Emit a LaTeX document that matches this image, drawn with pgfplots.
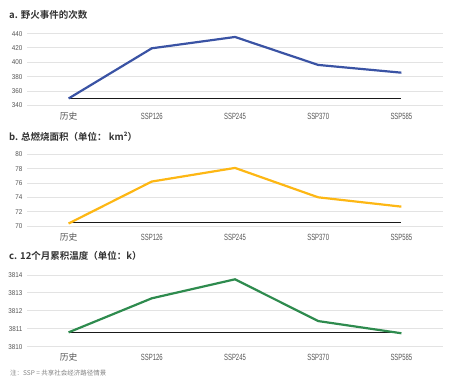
\documentclass[border=0pt]{standalone}
\usepackage{fontspec}
\usepackage{pgfplots}
\pgfplotsset{compat=1.18}
\setmainfont{Liberation Sans}
\newfontfamily\cjk[BoldFont={Noto Sans CJK SC Bold}]{Noto Sans CJK SC}
\newfontfamily\condfont[FakeStretch=0.66]{Liberation Sans}
\newfontfamily\ytfont[FakeStretch=0.9]{Liberation Sans}
\definecolor{cblue}{HTML}{3A53A4}
\definecolor{cyellow}{HTML}{FDB714}
\definecolor{cgreen}{HTML}{2E8B4E}
\definecolor{tickgray}{HTML}{555555}
\definecolor{gridgray}{HTML}{E3E3E3}
\definecolor{titlegray}{HTML}{333333}
\pgfplotsset{panel/.style={
  scale only axis, width=416pt, height=71.7pt,
  xmin=-0.5, xmax=4.5,
  axis line style={draw=none},
  major tick length=0pt,
  ymajorgrids, grid style={gridgray, line width=0.9pt},
  xtick={0,1,2,3,4},
  xticklabels={{\cjk\fontsize{8.8}{10}\selectfont 历史},SSP126,SSP245,SSP370,SSP585},
  xticklabel style={font=\condfont\fontsize{9}{10}\selectfont, text=tickgray, anchor=base, yshift=-14.2pt},
  yticklabel style={font=\ytfont\fontsize{7}{8}\selectfont, text=tickgray, xshift=-1pt},
  /pgf/number format/assume math mode=true,
  /pgf/number format/1000 sep={},
  clip=false, anchor=south west}}
\begin{document}
\begin{tikzpicture}
\useasboundingbox (0,0) rectangle (455pt,386pt);
% panel a
\begin{axis}[panel, at={(27pt,280.7pt)}, ymin=340, ymax=440, ytick={340,360,...,440}]
\addplot[black!90, line width=1.2pt] coordinates {(0,350) (4,350)};
\addplot[cblue, line width=2.2pt] coordinates {(0,349.5) (1,419.5) (2,435.3) (3,396.3) (4,385.5)};
\end{axis}
% panel b
\begin{axis}[panel, at={(27pt,160pt)}, ymin=70, ymax=80, ytick={70,72,...,80}]
\addplot[black!90, line width=1.2pt] coordinates {(0,70.45) (4,70.45)};
\addplot[cyellow, line width=2.2pt] coordinates {(0,70.35) (1,76.2) (2,78.1) (3,74.0) (4,72.7)};
\end{axis}
% panel c
\begin{axis}[panel, at={(27pt,39.3pt)}, ymin=3810, ymax=3814, ytick={3810,3811,...,3814}]
\addplot[black!90, line width=1.2pt] coordinates {(0,3810.8) (4,3810.8)};
\addplot[cgreen, line width=2.2pt] coordinates {(0,3810.8) (1,3812.7) (2,3813.76) (3,3811.43) (4,3810.75)};
\end{axis}
\node[anchor=west, inner sep=0pt, text=titlegray, font=\cjk\bfseries\fontsize{9.5}{11}\selectfont] at (9pt,371pt) {a. 野火事件的次数};
\node[anchor=west, inner sep=0pt, text=titlegray, font=\cjk\bfseries\fontsize{9.5}{11}\selectfont] at (9pt,249.3pt) {b. 总燃烧面积（单位： km²）};
\node[anchor=west, inner sep=0pt, text=titlegray, font=\cjk\bfseries\fontsize{9.5}{11}\selectfont] at (9pt,130pt) {c. 12个月累积温度（单位：k）};
\node[anchor=west, inner sep=0pt, text=gray, font=\cjk\fontsize{6.5}{7}\selectfont] at (10pt,13.3pt) {注：SSP = 共享社会经济路径情景};
\end{tikzpicture}
\end{document}
